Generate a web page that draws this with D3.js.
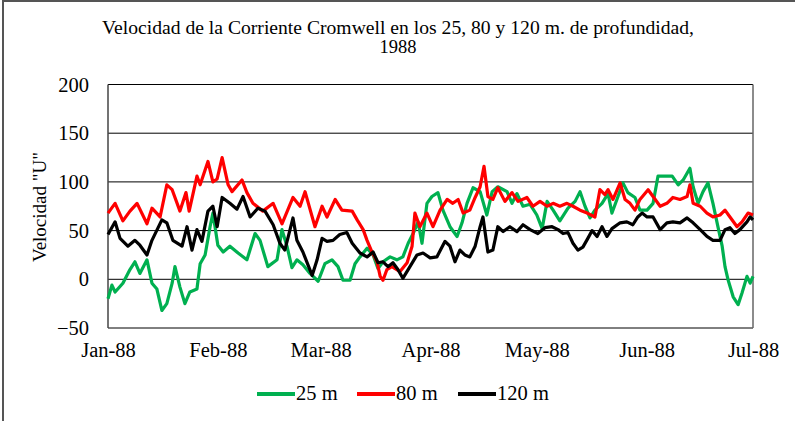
<!DOCTYPE html>
<html>
<head>
<meta charset="utf-8">
<script src="https://cdn.jsdelivr.net/npm/d3@7"></script>
<style>
  html, body { margin: 0; padding: 0; background: #fff; }
</style>
</head>
<body>
<svg id="chart" width="795" height="421"></svg>
<script>
// ----------- DATA (days after 1 Jan 1988, velocity) -----------
const yTicks = [-50, 0, 50, 100, 150, 200];
const monthTicks = ["Jan-88", "Feb-88", "Mar-88", "Apr-88", "May-88", "Jun-88", "Jul-88"];

const day25 = [0, 1.1, 2.0, 4.2, 6.2, 7.6, 9.0, 11.0, 12.4, 13.8, 15.2, 16.6, 18.1, 18.9, 20.3, 21.7, 23.1, 25.1, 26.0, 27.4, 28.8, 29.6, 31.0, 32.5, 34.4, 36.7, 39.2, 41.5, 42.9, 45.1, 47.7, 49.1, 50.5, 51.9, 53.3, 55.0, 57.0, 59.3, 61.2, 63.2, 64.9, 66.3, 68.3, 69.7, 71.1, 73.1, 74.8, 76.2, 77.6, 79.6, 81.5, 83.2, 84.7, 86.1, 87.5, 88.6, 90.0, 91.4, 93.1, 94.5, 96.5, 98.5, 99.9, 101.3, 103.0, 105.0, 106.9, 108.4, 110.0, 112.6, 114.0, 115.4, 117.1, 119.1, 121.0, 122.5, 123.9, 125.6, 127.5, 129.8, 131.8, 133.2, 134.6, 136.0, 137.4, 139.4, 141.1, 142.2, 143.6, 145.3, 146.7, 148.7, 150.1, 152.1, 153.8, 155.2, 157.2, 159.2, 160.9, 162.3, 164.2, 165.1, 166.5, 167.9, 169.3, 170.7, 172.1, 173.3, 174.1, 175.0, 176.4, 177.8, 178.9, 180.3, 181.2, 182];
const v25 = [-20, -6, -13, -4, 10, 18, 6, 20, -4, -10, -32, -25, -4, 13, -8, -25, -13, -10, 16, 25, 54, 68, 35, 28, 34, 27, 20, 47, 40, 13, 20, 51, 34, 12, 20, 15, 6, -2, 16, 20, 13, -1, -1, 16, 23, 32, 25, 11, 18, 23, 20, 23, 37, 47, 59, 37, 78, 85, 89, 71, 54, 44, 58, 78, 94, 90, 66, 90, 95, 90, 78, 88, 75, 77, 66, 52, 80, 71, 60, 73, 80, 90, 75, 63, 71, 78, 88, 68, 82, 99, 89, 84, 71, 71, 78, 106, 106, 106, 97, 102, 114, 95, 78, 90, 99, 78, 54, 34, 13, -1, -18, -26, -14, 3, -4, 3];

const day80 = [0, 2.0, 4.2, 6.2, 8.2, 11.0, 12.4, 14.7, 16.6, 18.1, 20.3, 22.0, 22.9, 25.1, 26.0, 28.2, 29.6, 30.8, 32.2, 33.9, 35.0, 37.8, 39.2, 40.9, 43.7, 46.6, 49.1, 52.2, 54.2, 55.6, 58.4, 60.4, 61.8, 64.1, 66.0, 68.9, 70.3, 72.0, 73.1, 74.5, 75.9, 76.8, 77.6, 78.7, 80.1, 82.4, 84.4, 85.8, 86.6, 88.0, 90.0, 91.7, 93.7, 95.7, 97.3, 98.8, 100.2, 102.1, 103.6, 105.0, 106.1, 107.2, 108.6, 110.0, 112.0, 114.0, 115.7, 118.2, 119.9, 121.9, 123.9, 125.6, 127.5, 129.5, 131.2, 133.2, 135.2, 137.4, 138.8, 140.2, 141.1, 142.5, 144.5, 145.9, 147.3, 148.7, 150.1, 152.4, 153.8, 155.8, 157.7, 159.4, 161.4, 163.4, 164.2, 165.1, 167.1, 169.0, 170.7, 172.7, 174.1, 175.5, 177.5, 178.9, 180.6, 182];
const v80 = [68, 78, 60, 70, 78, 57, 73, 64, 97, 92, 70, 89, 70, 106, 97, 121, 100, 103, 125, 97, 90, 102, 89, 78, 70, 78, 57, 84, 75, 90, 54, 75, 64, 82, 71, 70, 61, 51, 40, 28, 18, 3, -1, 10, 13, 8, 17, 34, 68, 54, 68, 54, 71, 82, 78, 82, 68, 71, 84, 95, 116, 85, 82, 94, 80, 89, 80, 84, 75, 80, 75, 78, 75, 78, 75, 71, 68, 64, 92, 87, 92, 82, 99, 82, 78, 71, 82, 92, 85, 75, 78, 84, 82, 85, 97, 78, 75, 68, 64, 66, 71, 64, 54, 59, 68, 66];

const day120 = [0, 2.0, 3.4, 5.6, 7.6, 9.0, 11.0, 12.4, 15.2, 16.6, 18.3, 20.9, 22.3, 23.7, 25.1, 26.5, 28.2, 29.6, 30.8, 32.2, 34.4, 36.4, 38.1, 40.1, 42.3, 44.3, 46.6, 48.5, 49.9, 52.2, 53.3, 55.0, 57.6, 59.0, 60.4, 61.8, 63.5, 65.4, 67.4, 68.9, 71.1, 73.1, 74.8, 76.2, 77.6, 79.0, 80.4, 81.8, 83.2, 85.2, 87.2, 88.9, 90.9, 92.8, 95.1, 96.5, 97.9, 99.3, 100.7, 102.1, 103.6, 105.0, 105.8, 107.2, 108.6, 110.0, 111.5, 113.4, 115.4, 117.1, 119.1, 121.3, 123.3, 125.3, 127.0, 128.4, 129.8, 131.2, 132.6, 134.0, 135.4, 136.6, 138.0, 139.4, 140.8, 142.2, 144.5, 146.4, 148.1, 149.5, 150.7, 152.1, 153.8, 155.8, 157.7, 159.4, 161.4, 163.4, 165.1, 167.1, 169.0, 170.7, 172.7, 174.1, 175.5, 176.9, 178.3, 180.3, 181.2, 182];
const v120 = [46, 59, 42, 34, 40, 35, 25, 40, 61, 58, 40, 34, 54, 30, 51, 39, 70, 75, 54, 84, 78, 72, 85, 64, 73, 70, 56, 37, 30, 63, 40, 28, 4, 20, 42, 39, 40, 46, 48, 37, 27, 23, 28, 17, 18, 13, 17, 10, 1, 13, 25, 27, 22, 23, 39, 34, 18, 30, 25, 23, 34, 54, 64, 28, 30, 54, 49, 54, 49, 56, 51, 47, 53, 54, 51, 47, 48, 37, 30, 33, 42, 50, 44, 54, 44, 52, 58, 59, 56, 64, 68, 64, 64, 51, 58, 59, 58, 63, 58, 51, 44, 40, 40, 51, 53, 47, 51, 59, 64, 61];

const series = [
  { name: "25 m", color: "#00b050", days: day25, values: v25 },
  { name: "80 m", color: "#ff0000", days: day80, values: v80 },
  { name: "120 m", color: "#000000", days: day120, values: v120 }
];

// ----------- CHART -----------
const FONT = "'Liberation Serif', 'Times New Roman', serif";
const svg = d3.select("#chart");
const start = new Date(1988, 0, 1);
const toDate = d => new Date(start.getTime() + d * 86400000);

const x = d3.scaleTime().domain([start, new Date(1988, 6, 1)]).range([108, 753]);
const y = d3.scaleLinear().domain([-50, 200]).range([328, 84.5]);

// outer frame (top and left only, like the cropped original)
svg.append("line").attr("x1", 3).attr("x2", 795).attr("y1", 1).attr("y2", 1)
  .attr("stroke", "#555").attr("stroke-width", 2);
svg.append("line").attr("x1", 3).attr("x2", 3).attr("y1", 0).attr("y2", 421)
  .attr("stroke", "#555").attr("stroke-width", 2);

// title
svg.append("text").attr("x", 398).attr("y", 34).attr("text-anchor", "middle")
  .style("font-family", FONT).style("font-size", "18.5px")
  .attr("textLength", 592).attr("lengthAdjust", "spacingAndGlyphs")
  .text("Velocidad de la Corriente Cromwell  en los 25, 80 y 120 m. de profundidad,");
svg.append("text").attr("x", 398).attr("y", 53).attr("text-anchor", "middle")
  .style("font-family", FONT).style("font-size", "18.5px").text("1988");

// gridlines
svg.append("g").selectAll("line").data(yTicks).enter().append("line")
  .attr("x1", 108).attr("x2", 753)
  .attr("y1", d => y(d)).attr("y2", d => y(d))
  .attr("stroke", "#000").attr("stroke-width", 1);

// plot frame sides
svg.append("line").attr("x1", 108).attr("x2", 108).attr("y1", y(200)).attr("y2", y(-50))
  .attr("stroke", "#444").attr("stroke-width", 1.5);
svg.append("line").attr("x1", 753).attr("x2", 753).attr("y1", y(200)).attr("y2", y(-50))
  .attr("stroke", "#666").attr("stroke-width", 1.5);

// y axis labels
const yAxis = d3.axisLeft(y).tickValues(yTicks).tickSize(0).tickPadding(0);
svg.append("g").attr("transform", "translate(89,0)").call(yAxis)
  .call(g => g.select(".domain").remove())
  .selectAll("text").style("font-family", FONT).style("font-size", "20.5px").attr("fill", "#000");

// x axis labels
const xAxis = d3.axisBottom(x).ticks(d3.timeMonth.every(1)).tickSize(0).tickPadding(0)
  .tickFormat((d, i) => monthTicks[i]);
svg.append("g").attr("transform", "translate(0,342)").call(xAxis)
  .call(g => g.select(".domain").remove())
  .selectAll("text").style("font-family", FONT).style("font-size", "20.5px").attr("fill", "#000");

// y axis title
svg.append("text").attr("transform", "translate(46,207) rotate(-90)")
  .attr("text-anchor", "middle").style("font-family", FONT).style("font-size", "19px")
  .text("Velocidad  \"U\"");

// series lines
const line = d3.line().x(d => x(toDate(d[0]))).y(d => y(d[1]));
series.forEach(s => {
  svg.append("path")
    .datum(d3.zip(s.days, s.values))
    .attr("fill", "none")
    .attr("stroke", s.color)
    .attr("stroke-width", 3.2)
    .attr("stroke-linejoin", "round")
    .attr("d", line);
});

// legend
const legendX = [257, 357, 458];
const legend = svg.append("g");
series.forEach((s, i) => {
  legend.append("line").attr("x1", legendX[i]).attr("x2", legendX[i] + 38)
    .attr("y1", 394).attr("y2", 394).attr("stroke", s.color).attr("stroke-width", 4);
  legend.append("text").attr("x", legendX[i] + 39).attr("y", 400)
    .style("font-family", FONT).style("font-size", "20.5px").text(s.name);
});
</script>
</body>
</html>
